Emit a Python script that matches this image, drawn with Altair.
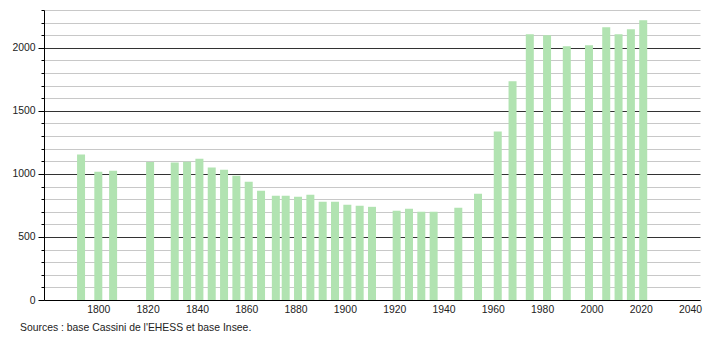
import altair as alt
import pandas as pd

years = [1793, 1800, 1806, 1821, 1831, 1836, 1841, 1846, 1851, 1856, 1861, 1866,
         1872, 1876, 1881, 1886, 1891, 1896, 1901, 1906, 1911, 1921, 1926, 1931,
         1936, 1946, 1954, 1962, 1968, 1975, 1982, 1990, 1999, 2006, 2011, 2016, 2021]
population = [1153, 1018, 1026, 1095, 1090, 1097, 1121, 1050, 1034, 986, 938, 867,
              827, 827, 819, 835, 779, 779, 755, 747, 739, 708, 724, 700,
              700, 732, 843, 1336, 1734, 2107, 2099, 2012, 2020, 2163, 2107, 2147, 2219]
y_ticks = list(range(0, 2301, 100))
x_ticks = [1800, 1820, 1840, 1860, 1880, 1900, 1920, 1940, 1960, 1980, 2000, 2020, 2040]
source_text = "Sources : base Cassini de l'EHESS et base Insee."

df = pd.DataFrame({"annee": years, "pop": population})

FONT = "Liberation Sans"
FS = 10.4

chart = alt.Chart(df).mark_bar(size=8, color="#b1e3b1").encode(
    x=alt.X("annee:Q",
            scale=alt.Scale(domain=[1780, 2042], nice=False, zero=False),
            axis=alt.Axis(values=x_ticks, format="d", title=None, grid=False,
                          ticks=False, labelPadding=4, domainColor="#000",
                          labelFont=FONT, labelFontSize=FS, labelColor="#222")),
    y=alt.Y("pop:Q",
            scale=alt.Scale(domain=[0, 2300], nice=False),
            axis=alt.Axis(values=y_ticks, title=None,
                          labelExpr="datum.value % 500 === 0 ? datum.label : ''",
                          format="d",
                          grid=True,
                          gridColor={"condition": {"test": "datum.value % 500 === 0", "value": "#333"}, "value": "#c8c8c8"},
                          tickSize={"condition": {"test": "datum.value % 500 === 0", "value": 6}, "value": 3},
                          tickColor="#000", domainColor="#000",
                          labelPadding=3, labelFont=FONT, labelFontSize=FS,
                          labelColor="#222")),
).properties(
    width=656, height=290,
    padding={"left": 44, "top": 10, "right": 10, "bottom": 40},
    autosize=alt.AutoSizeParams(type="none"),
    title=alt.TitleParams(source_text, orient="bottom", anchor="start",
                          frame="group",
                          fontSize=FS, fontWeight="normal", font=FONT,
                          color="#222", dx=-24, offset=9),
).configure_view(stroke=None).configure_axis(gridWidth=1)

chart.save("out.html", embed_options={"renderer": "svg", "actions": False})
